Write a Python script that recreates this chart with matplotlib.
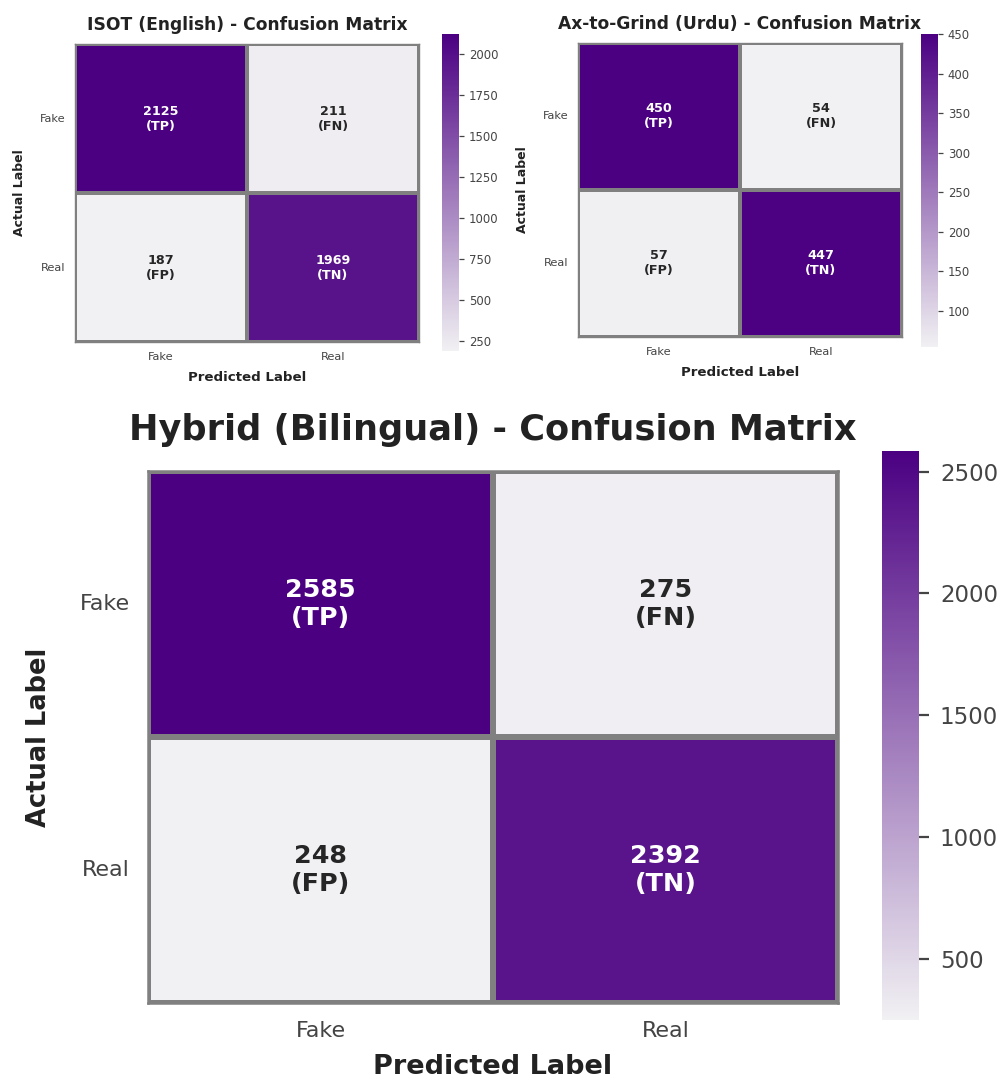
import numpy as np
import matplotlib
matplotlib.use("Agg")
import matplotlib.pyplot as plt
import seaborn as sns

sns.set_style("white")
plt.rcParams['font.family'] = ['DejaVu Sans']

class_labels = ["Fake", "Real"]
cell_tags = [["TP", "FN"], ["FP", "TN"]]

isot_cm = [[2125, 211], [187, 1969]]
urdu_cm = [[450, 54], [57, 447]]
hybrid_cm = [[2585, 275], [248, 2392]]

isot_ticks = [250, 500, 750, 1000, 1250, 1500, 1750, 2000]
urdu_ticks = [100, 150, 200, 250, 300, 350, 400, 450]
hybrid_ticks = [500, 1000, 1500, 2000, 2500]

cmap = sns.light_palette("indigo", as_cmap=True)
text_gray = "#444444"
title_gray = "#222222"

small = dict(title=12.3, annot=9.2, label=9.6, ylabel=9.0, tick=8.2, cbar=8.4,
             grid=1.6, spine=1.0, tpad=10, xlpad=7, ylpad=10, tickpad=7,
             cblen=3.5, cbw=0.9, cbpad=3.5)
large = dict(title=25.3, annot=18.3, label=19.5, ylabel=18.5, tick=16, cbar=16.5,
             grid=3.0, spine=1.8, tpad=22, xlpad=9, ylpad=20, tickpad=13,
             cblen=7, cbw=1.6, cbpad=8)


def draw_cm(ax, cax, cm, title, ticks, st):
    cm = np.array(cm)
    annot = np.array([[f"{cm[i, j]}\n({cell_tags[i][j]})" for j in range(2)]
                      for i in range(2)])
    sns.heatmap(cm, annot=annot, fmt="", cmap=cmap, ax=ax, cbar_ax=cax,
                linewidths=st["grid"], linecolor="gray",
                annot_kws={"fontsize": st["annot"], "fontweight": "bold"},
                xticklabels=class_labels, yticklabels=class_labels)
    for sp in ax.spines.values():
        sp.set_visible(True)
        sp.set_color("gray")
        sp.set_linewidth(st["spine"])
    ax.set_title(title, fontsize=st["title"], fontweight="bold",
                 color=title_gray, pad=st["tpad"])
    ax.set_xlabel("Predicted Label", fontsize=st["label"], fontweight="bold",
                  color=title_gray, labelpad=st["xlpad"])
    ax.set_ylabel("Actual Label", fontsize=st["ylabel"], fontweight="bold",
                  color=title_gray, labelpad=st["ylpad"])
    ax.tick_params(axis="both", length=0, labelsize=st["tick"],
                   labelcolor=text_gray, pad=st["tickpad"])
    ax.set_yticklabels(class_labels, rotation=0)
    cax.set_yticks(ticks)
    cax.tick_params(labelsize=st["cbar"], labelcolor=text_gray,
                    length=st["cblen"], width=st["cbw"], color=text_gray,
                    pad=st["cbpad"], right=True)


fig = plt.figure(figsize=(10.04, 10.79), dpi=100)

ax1 = fig.add_axes([0.0747, 0.683, 0.3426, 0.2762])
cax1 = fig.add_axes([0.4402, 0.6747, 0.0169, 0.2938])
draw_cm(ax1, cax1, isot_cm, "ISOT (English) - Confusion Matrix", isot_ticks, small)

ax2 = fig.add_axes([0.5757, 0.6877, 0.3227, 0.2725])
cax2 = fig.add_axes([0.9173, 0.6784, 0.0169, 0.2901])
draw_cm(ax2, cax2, urdu_cm, "Ax-to-Grind (Urdu) - Confusion Matrix", urdu_ticks, small)

ax3 = fig.add_axes([0.1474, 0.0704, 0.6873, 0.4931])
cax3 = fig.add_axes([0.8785, 0.0547, 0.0369, 0.5273])
draw_cm(ax3, cax3, hybrid_cm, "Hybrid (Bilingual) - Confusion Matrix", hybrid_ticks, large)

fig.savefig("out.png", dpi=100, facecolor="white")
